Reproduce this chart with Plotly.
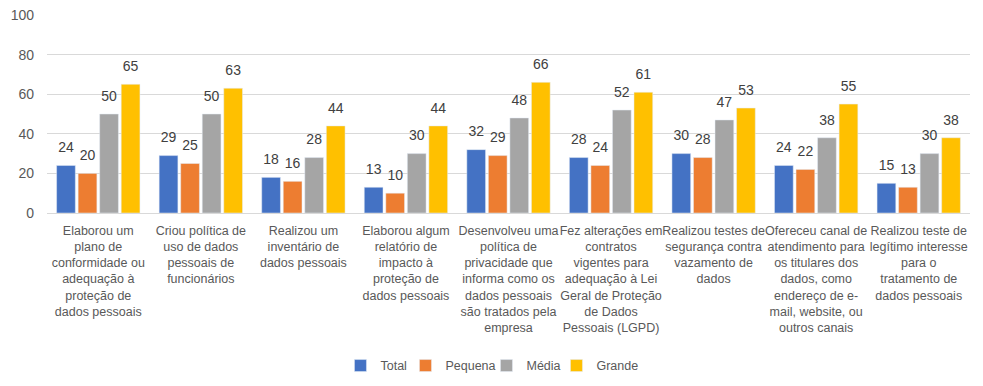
import plotly.graph_objects as go

categories = [
    "Elaborou um<br>plano de<br>conformidade ou<br>adequação à<br>proteção de<br>dados pessoais",
    "Criou política de<br>uso de dados<br>pessoais de<br>funcionários",
    "Realizou um<br>inventário de<br>dados pessoais",
    "Elaborou algum<br>relatório de<br>impacto à<br>proteção de<br>dados pessoais",
    "Desenvolveu uma<br>política de<br>privacidade que<br>informa como os<br>dados pessoais<br>são tratados pela<br>empresa",
    "Fez alterações em<br>contratos<br>vigentes para<br>adequação à Lei<br>Geral de Proteção<br>de Dados<br>Pessoais (LGPD)",
    "Realizou testes de<br>segurança contra<br>vazamento de<br>dados",
    "Ofereceu canal de<br>atendimento para<br>os titulares dos<br>dados, como<br>endereço de e-<br>mail, website, ou<br>outros canais",
    "Realizou teste de<br>legítimo interesse<br>para o<br>tratamento de<br>dados pessoais",
]

total = [24, 29, 18, 13, 32, 28, 30, 24, 15]
pequena = [20, 25, 16, 10, 29, 24, 28, 22, 13]
media = [50, 50, 28, 30, 48, 52, 47, 38, 30]
grande = [65, 63, 44, 44, 66, 61, 53, 55, 38]

series = [
    ("Total", total, "#4472C4", 20),
    ("Pequena", pequena, "#ED7D31", 36),
    ("Média", media, "#A5A5A5", 25),
    ("Grande", grande, "#FFC000", 40),
]

FONT = "Liberation Sans"
fig = go.Figure()
xs = list(range(len(categories)))
for i, (name, vals, color, lw) in enumerate(series):
    fig.add_trace(go.Bar(
        x=xs, y=vals, name=name, marker_color=color,
        offsetgroup=str(i), legendwidth=lw,
    ))
for i, (name, vals, color, lw) in enumerate(series):
    fig.add_trace(go.Scatter(
        x=xs, y=vals, mode="markers+text", offsetgroup=str(i),
        marker=dict(size=14, opacity=0, color=color),
        text=[str(v) for v in vals], textposition="top center",
        textfont=dict(size=14, color="#404040", family=FONT),
        showlegend=False, hoverinfo="skip", cliponaxis=False,
    ))

fig.update_layout(
    width=983, height=386,
    margin=dict(l=47, r=13, t=15, b=173, autoexpand=False),
    paper_bgcolor="white", plot_bgcolor="white",
    barmode="group", bargap=0.16, bargroupgap=0.13,
    scattermode="group", scattergap=0.16,
    font=dict(family=FONT, color="#595959"),
    legend=dict(orientation="h", x=0.481, xanchor="center",
                yref="container", y=0.052, yanchor="middle",
                font=dict(size=12.5, color="#595959", family=FONT), traceorder="normal",
                itemwidth=30, tracegroupgap=0),
    xaxis=dict(tickmode="array", tickvals=xs, ticktext=categories,
               tickfont=dict(size=12.5, color="#595959", family=FONT),
               tickangle=0, showgrid=False, ticks="", range=[-0.5, 8.5],
               automargin=False, ticklabelstandoff=8),
    yaxis=dict(range=[0, 100], tickmode="array", tickvals=[0, 20, 40, 60, 80, 100],
               showgrid=True, gridcolor="#D9D9D9",
               zeroline=True, zerolinecolor="#D9D9D9", zerolinewidth=1,
               tickfont=dict(size=14, color="#595959", family=FONT), ticks="",
               ticklabelstandoff=12, automargin=False),
)

fig.write_html("out.html", config={"displayModeBar": False},
               post_script="document.body.style.margin='0';document.body.style.overflow='hidden';")
